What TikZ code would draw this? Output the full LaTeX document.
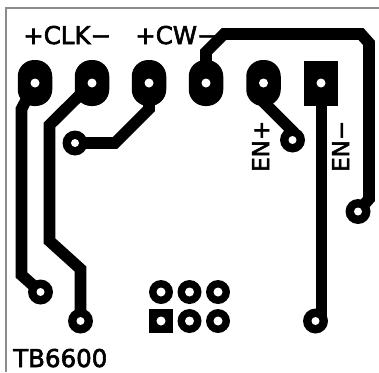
\documentclass[tikz,border=0pt]{standalone}
\usepackage{fontspec}
\setmainfont[FakeBold=2.4]{DejaVu Sans}
\begin{document}
\begin{tikzpicture}[x=1pt,y=-1pt,
  oval/.style={fill=black,rectangle,rounded corners=16.5pt,minimum width=34.5pt,minimum height=46pt,inner sep=0pt,outer sep=0pt},
  sqpad/.style={fill=black,rectangle,minimum width=34pt,minimum height=45pt,inner sep=0pt,outer sep=0pt},
  via/.style={fill=black,circle,minimum size=25pt,inner sep=0pt,outer sep=0pt},
  hdr/.style={fill=black,circle,minimum size=24pt,inner sep=0pt,outer sep=0pt},
  hdrsq/.style={fill=black,rectangle,minimum size=23.5pt,inner sep=0pt,outer sep=0pt},
  hole/.style={fill=white,circle,minimum size=8pt,inner sep=0pt,outer sep=0pt},
  bighole/.style={fill=white,circle,minimum size=9pt,inner sep=0pt,outer sep=0pt},
  trace/.style={draw=black,line width=11.6pt,line join=miter},
  lbl/.style={font=\fontsize{24.5}{24.5}\selectfont,inner sep=0pt,text=black,anchor=base west},
  vlbl/.style={font=\fontsize{23}{23}\selectfont,inner sep=0pt,text=black,anchor=base west,rotate=90},
  edge line/.style={draw=black!45,line width=1.2pt}]
\useasboundingbox (0,0) rectangle (379,372);
\draw[edge line] (6,372) -- (6,8) -- (379,8);
% pads
\node[oval] (p1) at (35,83) {};
\node[oval] (p2) at (92,83) {};
\node[oval] (p3) at (149,83) {};
\node[oval] (p4) at (206,83) {};
\node[oval] (p5) at (263.5,83) {};
\node[sqpad] (p6) at (321,83) {};
\node[via] (v1) at (75,143) {};
\node[via] (v2) at (292.5,140) {};
\node[via] (v3) at (40.5,292) {};
\node[via] (v4) at (80.5,321) {};
\node[via] (v5) at (315.5,321) {};
\node[via] (v6) at (358,211.5) {};
\node[hdr] (h1) at (161,292) {};
\node[hdr] (h2) at (189.5,292) {};
\node[hdr] (h3) at (218,292) {};
\node[hdrsq] (h4) at (161,321) {};
\node[hdr] (h5) at (189.5,321) {};
\node[hdr] (h6) at (218,321) {};
% bends
\coordinate (a1) at (21.5,109);
\coordinate (a2) at (21.5,275);
\coordinate (b1) at (49.5,125);
\coordinate (b2) at (49.5,241);
\coordinate (b3) at (80.5,269);
\coordinate (c1) at (115,143);
\coordinate (c2) at (149,109);
\coordinate (d1) at (206,52);
\coordinate (d2) at (224,34);
\coordinate (d3) at (361,34);
\coordinate (d4) at (369,43);
\coordinate (d5) at (369,199);
\coordinate (e1) at (263.5,102);
\coordinate (e2) at (292.5,131);
\coordinate (f1) at (321.5,83);
\coordinate (f2) at (321.5,321);
% traces
\draw[trace] (p1.center) -- (a1) -- (a2) -- (v3.center);
\draw[trace] (p2.center) -- (b1) -- (b2) -- (b3) -- (v4.center);
\draw[trace] (v1.center) -- (c1) -- (c2) -- (p3.center);
\draw[trace] (p4.center) -- (d1) -- (d2) -- (d3) -- (d4) -- (d5) -- (v6.center);
\draw[trace] (p5.center) -- (e1) -- (e2) -- (v2.center);
\draw[trace] (f1) -- (f2);
% holes
\foreach \n in {p1,p2,p3,p4,p5,p6}{\node[hole,minimum size=9pt] (\n-h) at (\n.center) {};}
\foreach \n in {v1,v2,v3,v4,v5,v6}{\node[hole] (\n-h) at (\n.center) {};}
\foreach \n in {h1,h2,h3,h4,h5,h6}{\node[bighole] (\n-h) at (\n.center) {};}
% text
\node[lbl] (t1) at (23,44) {+CLK−};
\node[lbl] (t2) at (135,44) {+CW−};
\node[vlbl] (t3) at (269,172) {EN+};
\node[vlbl] (t4) at (349,172) {EN−};
\node[lbl] (t5) at (13,367) {TB6600};
\end{tikzpicture}
\end{document}
